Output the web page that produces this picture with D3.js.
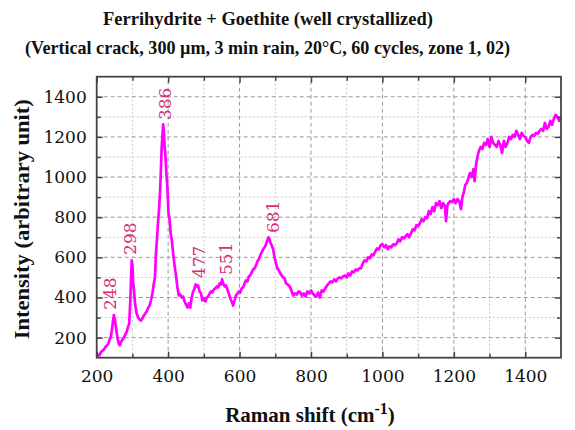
<!DOCTYPE html>
<html><head><meta charset="utf-8">
<script src="https://cdn.jsdelivr.net/npm/d3@7"></script>
<style>body{margin:0;background:#fff;} svg{display:block;}</style>
</head><body>
<script>
const titleLines = ["Ferrihydrite + Goethite (well crystallized)", "(Vertical crack, 300 \u00b5m, 3 min rain, 20\u00b0C, 60 cycles, zone 1, 02)"];
const xLabel = "Raman shift (cm";
const yLabel = "Intensity (arbitrary unit)";
const xTicks = [200,400,600,800,1000,1200,1400];
const yTicks = [200,400,600,800,1000,1200,1400];
const shift = [200,204,208,212,216,220,224,228,232,236,240,244,248,251,254,258,262,265,268,272,276,280,284,288,291,294,296,298,300,302,305,308,312,316,320,324,328,332,336,340,344,348,352,356,360,363,366,369,372,375,378,380,382,384,386,388,390,392,395,398,401,404,407,410,414,418,422,426,430,434,438,442,446,450,454,458,462,466,470,474,477,480,484,488,492,496,500,504,508,512,516,520,524,528,532,536,540,544,548,551,554,558,562,566,570,574,578,582,586,590,594,598,602,606,610,614,618,622,626,630,634,638,642,646,650,654,658,662,666,670,674,677,681,684,687,690,694,698,702,706,710,714,718,722,726,730,734,738,742,746,750,755,760,765,770,775,780,785,790,795,800,805,810,815,820,825,830,835,840,845,850,855,860,865,870,875,880,885,890,895,900,905,910,915,920,925,930,935,940,945,950,955,960,965,970,975,980,985,990,995,1000,1005,1010,1015,1020,1025,1030,1035,1040,1045,1050,1055,1060,1065,1070,1075,1080,1085,1090,1095,1100,1105,1110,1115,1120,1125,1130,1135,1140,1145,1150,1155,1160,1165,1170,1175,1178,1182,1185,1190,1195,1200,1205,1210,1215,1220,1224,1228,1232,1236,1240,1245,1250,1255,1258,1262,1266,1270,1275,1280,1285,1290,1295,1300,1305,1310,1315,1320,1325,1330,1335,1340,1345,1350,1355,1360,1365,1370,1375,1380,1385,1390,1395,1400,1405,1410,1415,1420,1425,1430,1435,1440,1445,1450,1455,1460,1465,1470,1475,1480,1485,1490,1495,1500];
const intensity = [100,115,112,128,135,140,152,160,168,190,205,260,312,290,250,200,168,162,178,190,200,215,230,255,270,380,480,585,560,480,420,360,320,300,290,285,295,310,320,330,348,360,385,420,470,500,620,700,780,850,950,1050,1150,1200,1262,1230,1160,1120,1020,950,820,790,720,690,620,560,510,450,410,415,400,405,380,365,350,370,350,400,430,445,465,455,460,430,420,385,395,380,400,405,420,430,425,440,445,455,450,470,465,490,470,455,460,440,420,395,380,360,385,410,420,430,425,445,450,470,485,480,505,510,525,540,545,560,580,590,610,625,640,650,665,680,700,690,670,660,640,600,570,545,535,520,510,500,495,470,465,460,450,430,410,420,415,430,425,410,420,405,430,420,435,420,410,405,425,400,435,430,445,460,470,480,475,490,480,495,500,495,505,510,500,520,510,530,525,540,535,545,545,570,585,580,600,595,615,610,630,645,640,660,665,650,660,640,655,650,665,660,670,690,680,700,695,705,715,700,720,740,735,760,755,770,790,780,800,795,830,815,850,830,870,860,880,845,870,855,780,860,870,880,875,890,870,890,880,840,900,925,960,970,990,1020,1000,1040,980,1060,1100,1130,1150,1140,1170,1160,1190,1150,1200,1170,1160,1150,1180,1160,1120,1180,1150,1170,1200,1190,1210,1200,1230,1210,1190,1220,1205,1200,1180,1170,1200,1210,1205,1220,1215,1230,1240,1230,1270,1240,1250,1280,1260,1290,1310,1300,1280,1300];
const peakLabels = ["248","298","386","477","551","681"];
const peakLabelX = [237,293,390,487,562,694];
const peakLabelY = [338,612,1284,497,512,721];

const W = 575, H = 430;
const m = {l: 96.7, r: 14, t: 76.7, b: 72.3};
const svg = d3.select("body").append("svg").attr("width", W).attr("height", H);
const x = d3.scaleLinear().domain([200,1500]).range([m.l, W - m.r]);
const y = d3.scaleLinear().domain([100,1500]).range([H - m.b, m.t]);
const x0 = x.range()[0], x1 = x.range()[1], y0 = y.range()[0], y1 = y.range()[1];

// grid
const minorX = d3.range(300,1500,200), minorY = d3.range(300,1500,200);
const g = svg.append("g");
g.selectAll(".mgx").data(minorX).join("line").attr("x1", d=>x(d)).attr("x2", d=>x(d)).attr("y1", y0).attr("y2", y1)
  .attr("stroke", "#c8c8c8").attr("stroke-width", 1).attr("stroke-dasharray", "2,2");
g.selectAll(".mgy").data(minorY).join("line").attr("y1", d=>y(d)).attr("y2", d=>y(d)).attr("x1", x0).attr("x2", x1)
  .attr("stroke", "#c8c8c8").attr("stroke-width", 1).attr("stroke-dasharray", "2,2");
g.selectAll(".gx").data(xTicks.filter(d=>d>200)).join("line").attr("x1", d=>x(d)).attr("x2", d=>x(d)).attr("y1", y0).attr("y2", y1)
  .attr("stroke", "#999").attr("stroke-width", 1).attr("stroke-dasharray", "4,3");
g.selectAll(".gy").data(yTicks).join("line").attr("y1", d=>y(d)).attr("y2", d=>y(d)).attr("x1", x0).attr("x2", x1)
  .attr("stroke", "#999").attr("stroke-width", 1).attr("stroke-dasharray", "4,3");

// line
const line = d3.line().x((d,i)=>x(shift[i])).y(d=>y(d));
svg.append("defs").append("clipPath").attr("id","clip").append("rect").attr("x", x0).attr("y", y1).attr("width", x1-x0).attr("height", y0-y1);
svg.append("path").datum(intensity).attr("d", line).attr("fill","none").attr("stroke","#ff00ff").attr("stroke-width",2.7)
  .attr("stroke-linejoin","round").attr("clip-path","url(#clip)");

// axes with inward ticks
const tickFont = "'DejaVu Serif', serif";
const xAxB = d3.axisBottom(x).tickValues(xTicks).tickSize(-6).tickPadding(12).tickFormat(d3.format("d"));
const xMinor = d3.axisBottom(x).tickValues(d3.range(300,1500,200)).tickSize(-4).tickFormat("");
const xAxT = d3.axisTop(x).tickValues(xTicks).tickSize(-6).tickFormat("");
const xMinorT = d3.axisTop(x).tickValues(d3.range(300,1500,200)).tickSize(-4).tickFormat("");
const yAxL = d3.axisLeft(y).tickValues(yTicks).tickSize(-6).tickPadding(10).tickFormat(d3.format("d"));
const yMinorL = d3.axisLeft(y).tickValues(d3.range(300,1500,200)).tickSize(-4).tickFormat("");
const yAxR = d3.axisRight(y).tickValues(yTicks).tickSize(-6).tickFormat("");
const yMinorR = d3.axisRight(y).tickValues(d3.range(300,1500,200)).tickSize(-4).tickFormat("");
function styleAx(sel){
  sel.select(".domain").remove();
  sel.selectAll(".tick line").attr("stroke","#444").attr("stroke-width",1.5);
  sel.selectAll("text").attr("font-family", tickFont).attr("font-size", 17).attr("fill","#111");
}
svg.append("g").attr("transform",`translate(0,${y0})`).call(xAxB).call(styleAx);
svg.append("g").attr("transform",`translate(0,${y0})`).call(xMinor).call(styleAx);
svg.append("g").attr("transform",`translate(0,${y1})`).call(xAxT).call(styleAx);
svg.append("g").attr("transform",`translate(0,${y1})`).call(xMinorT).call(styleAx);
svg.append("g").attr("transform",`translate(${x0},0)`).call(yAxL).call(styleAx);
svg.append("g").attr("transform",`translate(${x0},0)`).call(yMinorL).call(styleAx);
svg.append("g").attr("transform",`translate(${x1},0)`).call(yAxR).call(styleAx);
svg.append("g").attr("transform",`translate(${x1},0)`).call(yMinorR).call(styleAx);
svg.append("rect").attr("x", x0).attr("y", y1).attr("width", x1-x0).attr("height", y0-y1)
  .attr("fill","none").attr("stroke","#444").attr("stroke-width",1.8);

// peak labels
svg.selectAll(".pk").data(peakLabels).join("text")
  .attr("transform", (d,i)=>`translate(${x(peakLabelX[i])},${y(peakLabelY[i])}) rotate(-90)`)
  .attr("dominant-baseline","central")
  .attr("font-family", tickFont).attr("font-size", 17).attr("fill", "#d62f78")
  .text(d=>d);

// titles
const titleFont = "'Liberation Serif', serif";
svg.append("text").attr("x", 268).attr("y", 25).attr("text-anchor","middle").attr("font-family", titleFont)
  .attr("font-weight","bold").attr("font-size",19).attr("fill","#111").attr("textLength",330).attr("lengthAdjust","spacingAndGlyphs").text(titleLines[0]);
svg.append("text").attr("x", 267.5).attr("y", 54).attr("text-anchor","middle").attr("font-family", titleFont)
  .attr("font-weight","bold").attr("font-size",19).attr("fill","#111").attr("textLength",485).attr("lengthAdjust","spacingAndGlyphs").text(titleLines[1]);

// y label
svg.append("text").attr("transform", `translate(29,${(y0+y1)/2+2}) rotate(-90)`).attr("text-anchor","middle")
  .attr("font-family", titleFont).attr("font-weight","bold").attr("font-size",21).attr("fill","#111")
  .attr("textLength",240).attr("lengthAdjust","spacingAndGlyphs").text(yLabel);

// x label
const xl = svg.append("text").attr("x", 310).attr("y", 422).attr("text-anchor","middle")
  .attr("font-family", titleFont).attr("font-weight","bold").attr("font-size",21).attr("fill","#111");
xl.append("tspan").text(xLabel);
xl.append("tspan").attr("dy",-8).attr("font-size",16).text("-1");
xl.append("tspan").attr("dy",8).text(")");
</script>
</body></html>
